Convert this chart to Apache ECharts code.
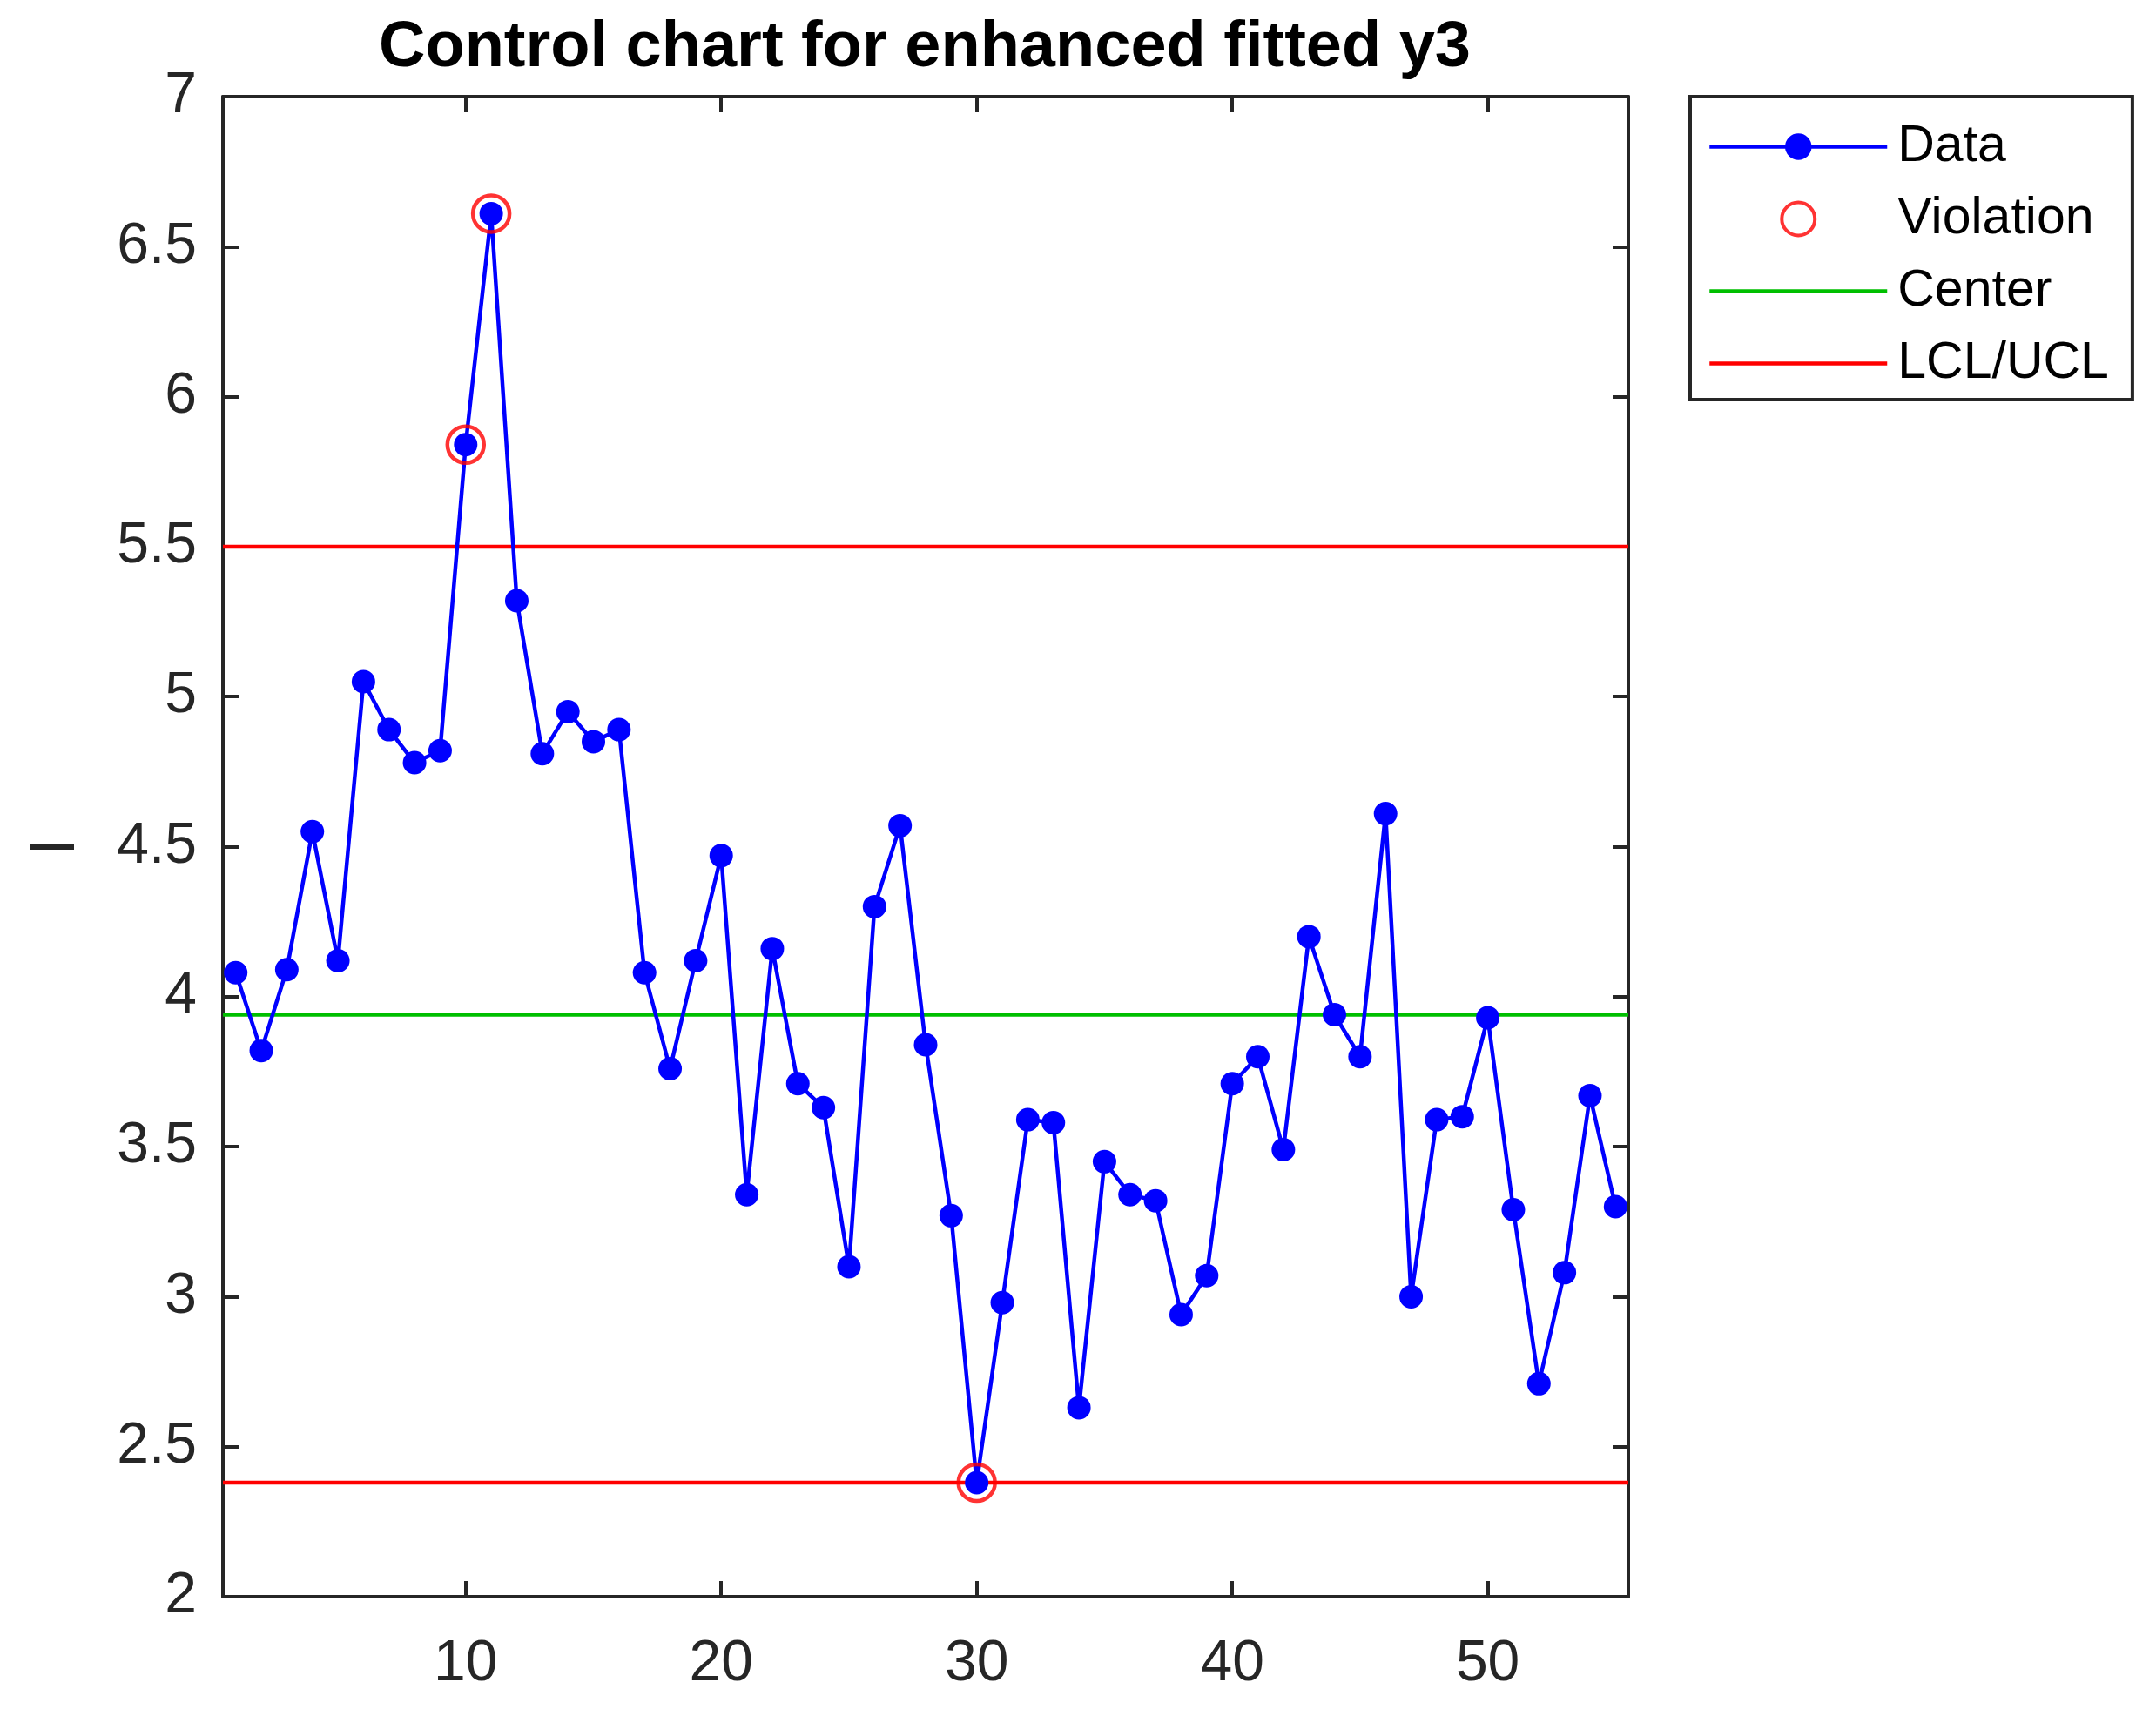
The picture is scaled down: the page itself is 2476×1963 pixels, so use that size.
<!DOCTYPE html>
<html>
<head>
<meta charset="utf-8">
<script src="https://cdn.jsdelivr.net/npm/echarts@6/dist/echarts.min.js"></script>
<style>
html,body{margin:0;padding:0;background:#fff;}
#chart{width:2476px;height:1963px;}
</style>
</head>
<body>
<div id="chart"></div>
<script>
// ---- data ----
const sampleIndex = [];
for (let i = 1; i <= 55; i++) sampleIndex.push(i);
const dataValues = [
  4.08, 3.82, 4.09, 4.55, 4.12, 5.05, 4.89, 4.78, 4.82, 5.84,
  6.61, 5.32, 4.81, 4.95, 4.85, 4.89, 4.08, 3.76, 4.12, 4.47,
  3.34, 4.16, 3.71, 3.63, 3.10, 4.30, 4.57, 3.84, 3.27, 2.38,
  2.98, 3.59, 3.58, 2.63, 3.45, 3.34, 3.32, 2.94, 3.07, 3.71,
  3.80, 3.49, 4.20, 3.94, 3.80, 4.61, 3.00, 3.59, 3.60, 3.93,
  3.29, 2.71, 3.08, 3.67, 3.30
];
const violationIndex = [10, 11, 30];
const centerValue = 3.94;
const uclValue = 5.50;
const lclValue = 2.38;
const xTicks = [10, 20, 30, 40, 50];
const xRange = [0.5, 55.5];
const yRange = [2, 7];
const yInterval = 0.5;

// ---- build ----
const dataPts = sampleIndex.map((x, i) => [x, dataValues[i]]);
const violPts = violationIndex.map(x => [x, dataValues[x - 1]]);
const hLine = v => [[xRange[0], v], [xRange[1], v]];

const FONT = '"Liberation Sans", Arial, Helvetica, sans-serif';
const AX = '#262626';
const LW = 4.5;

const baseX = {
  type: 'value', min: xRange[0], max: xRange[1],
  axisLine: { show: true, onZero: false, lineStyle: { color: AX, width: 4 } },
  axisTick: { show: true, inside: true, length: 18, customValues: xTicks, lineStyle: { color: AX, width: 4 } },
  splitLine: { show: false }
};
const baseY = {
  type: 'value', min: yRange[0], max: yRange[1], interval: yInterval,
  axisLine: { show: true, onZero: false, lineStyle: { color: AX, width: 4 } },
  axisTick: { show: true, inside: true, length: 18, lineStyle: { color: AX, width: 4 } },
  splitLine: { show: false }
};

const chart = echarts.init(document.getElementById('chart'), null, { renderer: 'canvas' });
chart.setOption({
  backgroundColor: '#ffffff',
  animation: false,
  title: {
    text: 'Control chart for enhanced fitted y3',
    left: 1057, top: 14, textAlign: 'center',
    textStyle: { fontFamily: FONT, fontSize: 74, fontWeight: 'bold', color: '#000' }
  },
  grid: { left: 256, top: 111, width: 1614, height: 1723, containLabel: false, outerBoundsMode: 'none' },
  xAxis: [
    Object.assign({}, baseX, {
      position: 'bottom',
      axisLabel: { show: true, customValues: xTicks, margin: 45, fontFamily: FONT, fontSize: 66, color: AX }
    }),
    Object.assign({}, baseX, { position: 'top', axisLabel: { show: false } })
  ],
  yAxis: [
    Object.assign({}, baseY, {
      position: 'left',
      name: 'I', nameLocation: 'middle', nameGap: 155, nameRotate: 90,
      nameTextStyle: { fontFamily: FONT, fontSize: 73, color: AX },
      axisLabel: { show: true, margin: 30, fontFamily: FONT, fontSize: 66, color: AX }
    }),
    Object.assign({}, baseY, { position: 'right', axisLabel: { show: false } })
  ],
  legend: {
    data: [
      'Data',
      { name: 'Violation', itemStyle: { borderWidth: 4 } },
      'Center',
      'LCL/UCL'
    ],
    orient: 'vertical', left: 1941, top: 111,
    padding: [28, 27, 12, 20],
    itemWidth: 204, itemHeight: 38, itemGap: 24,
    borderColor: AX, borderWidth: 4, borderRadius: 0,
    backgroundColor: '#fff',
    selectedMode: false,
    lineStyle: { width: LW },
    textStyle: { fontFamily: FONT, fontSize: 59, color: '#000', padding: [0, 0, 0, 7] }
  },
  series: [
    {
      name: 'Center', type: 'line', data: hLine(centerValue), symbol: 'none',
      lineStyle: { color: '#00BF00', width: LW }, itemStyle: { color: 'rgba(0,0,0,0)' }, z: 2
    },
    {
      name: 'LCL/UCL', type: 'line', data: hLine(uclValue), symbol: 'none',
      lineStyle: { color: '#FF0000', width: LW }, itemStyle: { color: 'rgba(0,0,0,0)' }, z: 2
    },
    {
      name: 'LCL/UCL', type: 'line', data: hLine(lclValue), symbol: 'none',
      lineStyle: { color: '#FF0000', width: LW }, itemStyle: { color: 'rgba(0,0,0,0)' }, z: 2
    },
    {
      name: 'Data', type: 'line', data: dataPts, symbol: 'circle', symbolSize: 27,
      showAllSymbol: true,
      lineStyle: { color: '#0000FF', width: LW }, itemStyle: { color: '#0000FF' }, z: 3
    },
    {
      name: 'Violation', type: 'scatter', data: violPts, symbol: 'circle', symbolSize: 42,
      itemStyle: { color: 'none', borderColor: '#FF0000', borderWidth: 4.5 }, z: 4
    }
  ]
});
</script>
</body>
</html>
